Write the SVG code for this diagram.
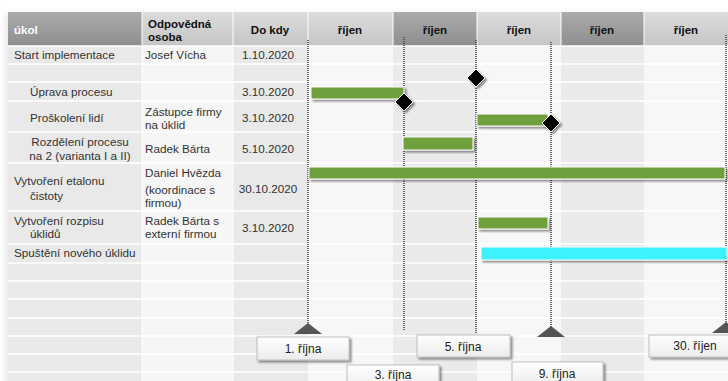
<svg xmlns="http://www.w3.org/2000/svg" width="728" height="381" viewBox="0 0 728 381">
  <defs>
    <linearGradient id="hdrDark" x1="0" y1="0" x2="0" y2="1">
      <stop offset="0" stop-color="#ababab"/>
      <stop offset="1" stop-color="#8e8e8e"/>
    </linearGradient>
    <linearGradient id="hdrLight" x1="0" y1="0" x2="0" y2="1">
      <stop offset="0" stop-color="#dcdcdc"/>
      <stop offset="1" stop-color="#c5c5c5"/>
    </linearGradient>
    <linearGradient id="boxFill" x1="0" y1="0" x2="0" y2="1">
      <stop offset="0" stop-color="#ffffff"/>
      <stop offset="1" stop-color="#ececec"/>
    </linearGradient>
    <filter id="softShadow" x="-10%" y="-10%" width="130%" height="140%">
      <feGaussianBlur in="SourceAlpha" stdDeviation="0.8"/>
      <feOffset dx="1.5" dy="1.5" result="b"/>
      <feComponentTransfer><feFuncA type="linear" slope="0.45"/></feComponentTransfer>
      <feMerge><feMergeNode/><feMergeNode in="SourceGraphic"/></feMerge>
    </filter>
    <filter id="tableShadow" x="-5%" y="-5%" width="110%" height="110%">
      <feGaussianBlur stdDeviation="3"/>
    </filter>
  </defs>
  <style>
    .hd { font-family: "Liberation Sans", Arial, sans-serif; font-size: 11.5px; font-weight: bold; fill: #111; }
    .hdw { font-family: "Liberation Sans", Arial, sans-serif; font-size: 11.5px; font-weight: bold; fill: #fff; }
    .tx { font-family: "Liberation Sans", Arial, sans-serif; font-size: 11.7px; fill: #333; }
    .mid { text-anchor: middle; }
    .lbl { font-family: "Liberation Sans", Arial, sans-serif; font-size: 12px; fill: #222; text-anchor: middle; }
    .grid { stroke: #ffffff; stroke-width: 1.5; }
    .dot { stroke: #4a4a4a; stroke-width: 1.6; stroke-dasharray: 1 1; fill: none; }
    .bar { fill: #70a03e; stroke: #ffffff; stroke-width: 1; filter: url(#softShadow); }
    .barC { fill: #3ef1fd; stroke: #ffffff; stroke-width: 1; filter: url(#softShadow); }
    .ms { fill: #000; stroke: #fff; stroke-width: 1; filter: url(#softShadow); }
    .tri { fill: #555555; }
    .box { fill: url(#boxFill); stroke: #bdbdbd; stroke-width: 1; filter: url(#softShadow); }
  </style>

  <rect width="728" height="381" fill="#ffffff"/>

  <!-- table body: column shading -->
  <g id="table">
    <rect x="5" y="14" width="730" height="380" fill="#d8d8d8" filter="url(#tableShadow)" opacity="0.6"/>
    <rect x="8" y="46" width="134" height="335" fill="#e9e9e9"/>
    <rect x="142" y="46" width="91" height="335" fill="#f6f6f6"/>
    <rect x="233" y="46" width="75" height="335" fill="#e9e9e9"/>
    <rect x="308" y="46" width="85" height="335" fill="#f7f7f7"/>
    <rect x="393" y="46" width="84" height="335" fill="#eaeaea"/>
    <rect x="477" y="46" width="84" height="335" fill="#f7f7f7"/>
    <rect x="561" y="46" width="83" height="335" fill="#eaeaea"/>
    <rect x="644" y="46" width="84" height="335" fill="#f7f7f7"/>

    <!-- header cells -->
    <rect x="8" y="12" width="134" height="34" fill="url(#hdrDark)"/>
    <rect x="142" y="12" width="91" height="34" fill="url(#hdrLight)"/>
    <rect x="233" y="12" width="75" height="34" fill="url(#hdrLight)"/>
    <rect x="308" y="12" width="85" height="34" fill="url(#hdrLight)"/>
    <rect x="393" y="12" width="84" height="34" fill="url(#hdrDark)"/>
    <rect x="477" y="12" width="84" height="34" fill="url(#hdrLight)"/>
    <rect x="561" y="12" width="83" height="34" fill="url(#hdrDark)"/>
    <rect x="644" y="12" width="84" height="34" fill="url(#hdrLight)"/>

    <!-- grid lines -->
    <g class="grid">
      <line x1="8" y1="46" x2="728" y2="46"/>
      <line x1="8" y1="64" x2="728" y2="64"/>
      <line x1="8" y1="82" x2="728" y2="82"/>
      <line x1="8" y1="101" x2="728" y2="101"/>
      <line x1="8" y1="132" x2="728" y2="132"/>
      <line x1="8" y1="163" x2="728" y2="163"/>
      <line x1="8" y1="211" x2="728" y2="211"/>
      <line x1="8" y1="244" x2="728" y2="244"/>
      <line x1="8" y1="263" x2="728" y2="263"/>
      <line x1="8" y1="281" x2="728" y2="281"/>
      <line x1="8" y1="299" x2="728" y2="299"/>
      <line x1="8" y1="318" x2="728" y2="318"/>
      <line x1="8" y1="336" x2="728" y2="336"/>
      <line x1="8" y1="354" x2="728" y2="354"/>
      <line x1="8" y1="372" x2="728" y2="372"/>
      <line x1="142" y1="12" x2="142" y2="381" stroke-width="1"/>
      <line x1="233" y1="12" x2="233" y2="381" stroke-width="1"/>
      <line x1="308" y1="12" x2="308" y2="46" stroke-width="1"/>
      <line x1="393" y1="12" x2="393" y2="46" stroke-width="1"/>
      <line x1="477" y1="12" x2="477" y2="46" stroke-width="1"/>
      <line x1="561" y1="12" x2="561" y2="46" stroke-width="1"/>
      <line x1="644" y1="12" x2="644" y2="46" stroke-width="1"/>
    </g>

    <!-- header text -->
    <text class="hdw" x="14" y="34">úkol</text>
    <text class="hd" x="148" y="28">Odpovědná</text>
    <text class="hd" x="148" y="41">osoba</text>
    <text class="hd mid" x="270" y="34">Do kdy</text>
    <text class="hd mid" x="350" y="34">říjen</text>
    <text class="hd mid" x="435" y="34">říjen</text>
    <text class="hd mid" x="519" y="34">říjen</text>
    <text class="hd mid" x="602" y="34">říjen</text>
    <text class="hd mid" x="686" y="34">říjen</text>
  </g>

  <!-- task rows -->
  <g id="row-start">
    <text class="tx" x="14" y="59">Start implementace</text>
    <text class="tx" x="145" y="59">Josef Vícha</text>
    <text class="tx mid" x="268" y="59">1.10.2020</text>
  </g>
  <g id="row-uprava">
    <text class="tx" x="30" y="96">Úprava procesu</text>
    <text class="tx mid" x="268" y="96">3.10.2020</text>
  </g>
  <g id="row-proskoleni">
    <text class="tx" x="30" y="122">Proškolení lidí</text>
    <text class="tx" x="145" y="116">Zástupce firmy</text>
    <text class="tx" x="145" y="129">na úklid</text>
    <text class="tx mid" x="268" y="122">3.10.2020</text>
  </g>
  <g id="row-rozdeleni">
    <text class="tx mid" x="80" y="146">Rozdělení procesu</text>
    <text class="tx mid" x="80" y="160">na 2 (varianta I a II)</text>
    <text class="tx" x="145" y="153">Radek Bárta</text>
    <text class="tx mid" x="268" y="153">5.10.2020</text>
  </g>
  <g id="row-etalon">
    <text class="tx" x="14" y="185">Vytvoření etalonu</text>
    <text class="tx" x="30" y="200">čistoty</text>
    <text class="tx" x="145" y="177">Daniel Hvězda</text>
    <text class="tx" x="145" y="194">(koordinace s</text>
    <text class="tx" x="145" y="207">firmou)</text>
    <text class="tx mid" x="268" y="193">30.10.2020</text>
  </g>
  <g id="row-rozpis">
    <text class="tx" x="14" y="225">Vytvoření rozpisu</text>
    <text class="tx" x="30" y="238">úklidů</text>
    <text class="tx" x="145" y="225">Radek Bárta s</text>
    <text class="tx" x="145" y="238">externí firmou</text>
    <text class="tx mid" x="268" y="232">3.10.2020</text>
  </g>
  <g id="row-spusteni">
    <text class="tx" x="14" y="257">Spuštění nového úklidu</text>
  </g>

  <!-- date markers: dotted guides and pointer triangles -->
  <g id="connectors">
    <line class="dot" x1="308" y1="40" x2="308" y2="324"/>
    <line class="dot" x1="404" y1="37" x2="404" y2="330"/>
    <line class="dot" x1="476" y1="40" x2="476" y2="333"/>
    <line class="dot" x1="551" y1="42" x2="551" y2="327"/>
    <line class="dot" x1="726" y1="35" x2="726" y2="323"/>
    <polygon class="tri" points="308,323 322,334 294,334"/>
    <polygon class="tri" points="551,326 565,337 537,337"/>
    <polygon class="tri" points="726,322 740,333 712,333"/>
  </g>

  <!-- bars -->
  <g id="bar-uprava"><rect class="bar" x="311" y="87" width="93" height="12"/></g>
  <g id="bar-proskoleni"><rect class="bar" x="477" y="114" width="71" height="12"/></g>
  <g id="bar-rozdeleni"><rect class="bar" x="403" y="137" width="70" height="13"/></g>
  <g id="bar-etalon"><rect class="bar" x="309" y="167" width="416" height="12"/></g>
  <g id="bar-rozpis"><rect class="bar" x="478" y="217" width="70" height="12"/></g>
  <g id="bar-spusteni"><rect class="barC" x="481" y="247" width="246" height="13"/></g>

  <!-- milestones -->
  <g id="ms-1"><polygon class="ms" points="404,93 413,102 404,111 395,102"/></g>
  <g id="ms-2"><polygon class="ms" points="476,69 485,78 476,87 467,78"/></g>
  <g id="ms-3"><polygon class="ms" points="551,114 560,123 551,132 542,123"/></g>

  <!-- date labels -->
  <g id="label-1">
    <rect class="box" x="257" y="337" width="92" height="23"/>
    <text class="lbl" x="303" y="353">1. října</text>
  </g>
  <g id="label-3">
    <rect class="box" x="347" y="365" width="92" height="23"/>
    <text class="lbl" x="393" y="379">3. října</text>
  </g>
  <g id="label-5">
    <rect class="box" x="417" y="335" width="93" height="22"/>
    <text class="lbl" x="463" y="351">5. října</text>
  </g>
  <g id="label-9">
    <rect class="box" x="512" y="362" width="91" height="23"/>
    <text class="lbl" x="557" y="378">9. října</text>
  </g>
  <g id="label-30">
    <rect class="box" x="649" y="335" width="90" height="22"/>
    <text class="lbl" x="695" y="350">30. říjen</text>
  </g>
</svg>
